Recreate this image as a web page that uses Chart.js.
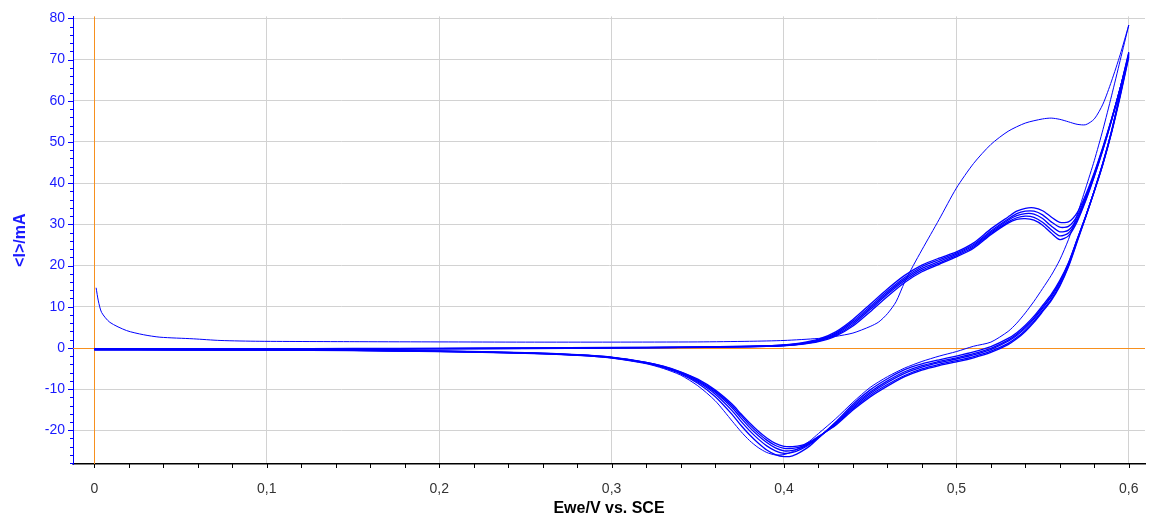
<!DOCTYPE html>
<html>
<head>
<meta charset="utf-8">
<script src="https://cdn.jsdelivr.net/npm/chart.js@4.4.1/dist/chart.umd.min.js"></script>
<style>
  html, body { margin: 0; padding: 0; background: #fff; }
  #wrap { width: 1149px; height: 518px; }
</style>
</head>
<body>
<div id="wrap"><canvas id="cvChart" width="1149" height="518"></canvas></div>
<script>
// potential grids (V vs SCE)
const fwdV = [0, 0.05, 0.10, 0.15, 0.20, 0.25, 0.30, 0.34, 0.37, 0.39,
  0.40, 0.41, 0.42, 0.43, 0.44, 0.45, 0.46, 0.47, 0.48, 0.49,
  0.50, 0.51, 0.52, 0.53,
  0.535, 0.54, 0.545, 0.55, 0.555, 0.56, 0.565, 0.57, 0.575, 0.58, 0.585, 0.59, 0.595, 0.60];
const revV = [0.60, 0.595, 0.59, 0.585, 0.58, 0.575, 0.57, 0.565, 0.56, 0.555, 0.55, 0.545, 0.54, 0.535, 0.53,
  0.52, 0.51, 0.50, 0.49, 0.48, 0.47, 0.46, 0.45, 0.44, 0.43,
  0.42, 0.415, 0.41, 0.405, 0.40, 0.395, 0.39, 0.385, 0.38, 0.375, 0.37,
  0.36, 0.35, 0.34, 0.33, 0.32,
  0.30, 0.28, 0.25, 0.20, 0.15, 0.10, 0.05, 0.0];

// cycle 1 (own forward grid, starts with charging decay)
const c1FwdV = [0.001, 0.0023, 0.0042, 0.009, 0.0187, 0.0284, 0.038, 0.0574, 0.0729, 0.096,
  0.154, 0.20, 0.25, 0.30, 0.35, 0.38, 0.40, 0.42, 0.43, 0.44,
  0.45, 0.455, 0.46, 0.465, 0.47, 0.475, 0.48, 0.49, 0.50, 0.51,
  0.52, 0.53, 0.54, 0.55, 0.555, 0.56, 0.565, 0.57, 0.575, 0.58,
  0.585, 0.59, 0.595, 0.60];
const c1FwdI = [14.6, 11.4, 8.6, 6.2, 4.2, 3.2, 2.6, 2.2, 1.8, 1.6,
  1.5, 1.45, 1.4, 1.4, 1.45, 1.6, 1.8, 2.3, 2.8, 3.6,
  5.2, 6.3, 8.3, 11.2, 16.0, 20.0, 23.8, 31.2, 38.8, 44.8,
  49.4, 52.6, 54.6, 55.6, 55.8, 55.5, 54.9, 54.3, 54.2, 55.6,
  59.2, 64.8, 71.2, 78.4];
const c1RevI = [78.4, 69.8, 61.2, 53.0, 45.5, 38.8, 32.3, 26.3, 21.4, 17.6, 14.4, 11.3, 8.5, 6.0, 4.0,
  1.4, 0.4, -0.9, -2.0, -3.3, -4.9, -7.0, -9.6, -13.2, -17.2,
  -20.8, -22.6, -24.0, -25.2, -25.9, -26.0, -25.4, -24.2, -22.5, -20.3, -17.8,
  -12.8, -9.2, -6.6, -5.0, -3.85,
  -2.5, -1.8, -1.3, -0.9, -0.65, -0.55, -0.5, -0.45];

// cycles 2-6, forward sweep on fwdV (mA)
const c2FwdI = [-0.2, -0.2, -0.2, -0.15, -0.1, 0.0, 0.1, 0.2, 0.35, 0.55,
  0.75, 1.2, 2.1, 3.9, 6.9, 10.6, 14.3, 17.6, 20.1, 21.8,
  23.3, 25.5, 28.9, 31.8,
  33.2, 33.9, 34.0, 33.3, 31.8, 30.5, 30.6, 32.8, 37.2, 42.6, 48.8, 55.6, 63.0, 70.6];
const c3FwdI = [-0.25, -0.25, -0.25, -0.2, -0.15, -0.05, 0.05, 0.15, 0.3, 0.5,
  0.7, 1.1, 1.95, 3.6, 6.5, 10.1, 13.8, 17.1, 19.7, 21.4,
  23.0, 25.1, 28.4, 31.3,
  32.6, 33.2, 33.2, 32.3, 30.6, 29.3, 29.5, 32.0, 36.7, 42.3, 48.6, 55.5, 63.0, 71.0];
const c4FwdI = [-0.3, -0.3, -0.3, -0.25, -0.2, -0.1, 0.0, 0.1, 0.25, 0.45,
  0.62, 1.0, 1.8, 3.35, 6.1, 9.7, 13.4, 16.7, 19.3, 21.0,
  22.7, 24.8, 28.1, 31.0,
  32.1, 32.6, 32.5, 31.4, 29.6, 28.2, 28.6, 31.4, 36.3, 42.0, 48.4, 55.4, 63.0, 71.3];
const c5FwdI = [-0.3, -0.3, -0.3, -0.25, -0.2, -0.1, 0.0, 0.1, 0.25, 0.4,
  0.58, 0.92, 1.65, 3.1, 5.7, 9.3, 13.0, 16.3, 18.9, 20.6,
  22.4, 24.5, 27.8, 30.6,
  31.6, 32.0, 31.7, 30.5, 28.7, 27.2, 27.9, 31.0, 36.0, 41.8, 48.2, 55.3, 63.0, 71.6];
const c6FwdI = [-0.35, -0.35, -0.35, -0.3, -0.25, -0.15, -0.05, 0.05, 0.2, 0.35,
  0.52, 0.85, 1.5, 2.85, 5.3, 8.8, 12.5, 15.9, 18.5, 20.3,
  22.1, 24.2, 27.5, 30.3,
  31.2, 31.4, 31.0, 29.8, 27.9, 26.3, 27.2, 30.6, 35.7, 41.6, 48.1, 55.2, 63.0, 71.8];

// cycles 2-6, reverse sweep on revV (mA)
const c2RevI = [70.6, 61.0, 52.2, 44.6, 38.0, 31.9, 26.3, 20.7, 16.4, 13.0, 10.3, 7.7, 5.5, 3.7, 2.3,
  0.3, -1.0, -2.0, -2.9, -3.9, -5.3, -7.5, -10.2, -13.7, -18.0,
  -21.9, -23.8, -25.2, -26.2, -26.4, -25.9, -24.8, -23.1, -21.1, -18.8, -16.2,
  -11.8, -8.6, -6.3, -4.8, -3.7,
  -2.4, -1.8, -1.3, -0.9, -0.65, -0.55, -0.5, -0.45];
const c3RevI = [71.0, 61.3, 52.4, 44.7, 38.1, 31.9, 26.2, 20.5, 16.1, 12.6, 9.9, 7.3, 5.1, 3.3, 1.9,
  -0.1, -1.4, -2.4, -3.3, -4.3, -5.8, -8.0, -10.7, -14.1, -18.2,
  -21.8, -23.4, -24.6, -25.4, -25.6, -25.0, -23.8, -22.1, -20.1, -17.8, -15.3,
  -11.2, -8.3, -6.1, -4.7, -3.65,
  -2.35, -1.75, -1.25, -0.85, -0.6, -0.5, -0.45, -0.4];
const c4RevI = [71.3, 61.5, 52.5, 44.8, 38.2, 32.0, 26.2, 20.3, 15.8, 12.3, 9.6, 7.0, 4.8, 3.0, 1.6,
  -0.4, -1.7, -2.7, -3.6, -4.7, -6.2, -8.4, -11.1, -14.5, -18.4,
  -21.7, -23.2, -24.3, -24.9, -25.0, -24.3, -23.0, -21.3, -19.3, -17.0, -14.6,
  -10.8, -8.0, -6.0, -4.6, -3.6,
  -2.3, -1.7, -1.2, -0.8, -0.6, -0.5, -0.45, -0.4];
const c5RevI = [71.6, 61.7, 52.6, 44.9, 38.2, 31.9, 25.9, 19.9, 15.3, 11.8, 9.1, 6.5, 4.3, 2.5, 1.1,
  -0.8, -2.1, -3.1, -4.0, -5.1, -6.7, -8.9, -11.5, -14.8, -18.6,
  -21.6, -23.0, -24.0, -24.4, -24.4, -23.7, -22.4, -20.7, -18.7, -16.4, -14.1,
  -10.5, -7.8, -5.9, -4.5, -3.55,
  -2.3, -1.7, -1.2, -0.8, -0.55, -0.45, -0.4, -0.4];
const c6RevI = [71.8, 61.9, 52.7, 45.0, 38.2, 31.8, 25.7, 19.7, 15.0, 11.5, 8.8, 6.2, 4.0, 2.2, 0.8,
  -1.1, -2.4, -3.4, -4.3, -5.4, -7.0, -9.3, -11.9, -15.1, -18.8,
  -21.5, -22.8, -23.7, -24.0, -23.9, -23.2, -21.9, -20.2, -18.2, -16.0, -13.7,
  -10.2, -7.6, -5.8, -4.45, -3.5,
  -2.25, -1.65, -1.15, -0.75, -0.55, -0.45, -0.4, -0.35];

const xMin = -0.0124, xMax = 0.6094;
const yMin = -28.2, yMax = 80.5;

const fontFamily = "'Liberation Sans', Arial, sans-serif";
const lineBlue = "#0000ff";
const labelBlue = "#1a1aff";
const gridGray = "#d2d2d2";
const zeroOrange = "#f7901e";
const clear = "rgba(0,0,0,0)";

function toPoints(vs, is) {
  return vs.map((v, i) => ({ x: v, y: is[i] }));
}

const cycles = [
  toPoints(c1FwdV, c1FwdI).concat(toPoints(revV, c1RevI)),
  toPoints(fwdV, c2FwdI).concat(toPoints(revV, c2RevI)),
  toPoints(fwdV, c3FwdI).concat(toPoints(revV, c3RevI)),
  toPoints(fwdV, c4FwdI).concat(toPoints(revV, c4RevI)),
  toPoints(fwdV, c5FwdI).concat(toPoints(revV, c5RevI)),
  toPoints(fwdV, c6FwdI).concat(toPoints(revV, c6RevI))
];

// orange zero lines (E = 0 and I = 0), under the curves
const zeroLines = {
  id: "zeroLines",
  beforeDatasetsDraw(chart) {
    const { ctx, chartArea: a, scales: { x, y } } = chart;
    const px = Math.round(x.getPixelForValue(0)) + 0.5;
    const py = Math.round(y.getPixelForValue(0)) + 0.5;
    ctx.save();
    ctx.lineWidth = 1;
    ctx.strokeStyle = zeroOrange;
    ctx.beginPath();
    ctx.moveTo(px, a.top);
    ctx.lineTo(px, a.bottom);
    ctx.moveTo(a.left, py);
    ctx.lineTo(a.right, py);
    ctx.stroke();
    ctx.restore();
  }
};

// tick marks: major/minor drawn from the scales' own ticks
const tickMarks = {
  id: "tickMarks",
  afterDraw(chart) {
    const ctx = chart.ctx;
    const xs = chart.scales.x;
    const ys = chart.scales.y;
    ctx.save();
    ctx.lineWidth = 1;
    ctx.strokeStyle = lineBlue;
    ys.ticks.forEach(t => {
      const y = Math.round(ys.getPixelForValue(t.value)) + 0.5;
      const len = t.value % 10 === 0 ? 5 : 3;
      ctx.beginPath();
      ctx.moveTo(ys.right - len, y);
      ctx.lineTo(ys.right, y);
      ctx.stroke();
    });
    ctx.strokeStyle = "#000";
    xs.ticks.forEach(t => {
      const x = Math.round(xs.getPixelForValue(t.value)) + 0.5;
      ctx.beginPath();
      ctx.moveTo(x, xs.top);
      ctx.lineTo(x, xs.top + 4);
      ctx.stroke();
    });
    ctx.restore();
  }
};

new Chart(document.getElementById("cvChart"), {
  type: "scatter",
  data: {
    datasets: cycles.map((pts, i) => ({
      label: "Cycle " + (i + 1),
      data: pts,
      showLine: true,
      borderColor: lineBlue,
      borderWidth: i === 0 ? 1 : 1.3,
      pointRadius: 0,
      tension: 0.25,
      fill: false
    }))
  },
  options: {
    responsive: false,
    animation: false,
    devicePixelRatio: 1,
    layout: { padding: { top: 14, right: 4, left: 0, bottom: 0 } },
    plugins: {
      legend: { display: false },
      tooltip: { enabled: false }
    },
    scales: {
      x: {
        type: "linear",
        min: xMin,
        max: xMax,
        afterFit: s => { s.height = 54; },
        border: { color: "#000", width: 1.5 },
        grid: {
          drawTicks: false,
          lineWidth: 1,
          color: c => {
            const v = Math.round(c.tick.value * 100);
            return v !== 0 && v % 10 === 0 ? gridGray : clear;
          }
        },
        ticks: {
          stepSize: 0.02,
          includeBounds: false,
          autoSkip: false,
          maxRotation: 0,
          padding: 4,
          color: "#333",
          font: { family: fontFamily, size: 14, lineHeight: 3 },
          callback: v => {
            const h = Math.round(v * 100);
            if (h % 10 !== 0) return "";
            return h === 0 ? "0" : (h / 100).toFixed(1).replace(".", ",");
          }
        },
        title: {
          display: true,
          text: "Ewe/V vs. SCE",
          color: "#000",
          font: { family: fontFamily, size: 16, weight: "bold" },
          padding: { top: 0, bottom: 0 }
        }
      },
      y: {
        type: "linear",
        min: yMin,
        max: yMax,
        afterFit: s => { s.width = 73; },
        border: { color: lineBlue, width: 1 },
        grid: {
          drawTicks: false,
          lineWidth: 1,
          color: c => {
            const v = c.tick.value;
            return Math.abs(v) > 1e-9 && v % 10 === 0 ? gridGray : clear;
          }
        },
        ticks: {
          stepSize: 2,
          includeBounds: false,
          autoSkip: false,
          padding: 8,
          color: labelBlue,
          font: { family: fontFamily, size: 14 },
          callback: v => (v % 10 === 0 ? String(v) : "")
        },
        title: {
          display: true,
          text: "<I>/mA",
          color: labelBlue,
          font: { family: fontFamily, size: 16, weight: "bold" },
          padding: { top: 11, bottom: 0 }
        }
      }
    }
  },
  plugins: [zeroLines, tickMarks]
});
</script>
</body>
</html>
